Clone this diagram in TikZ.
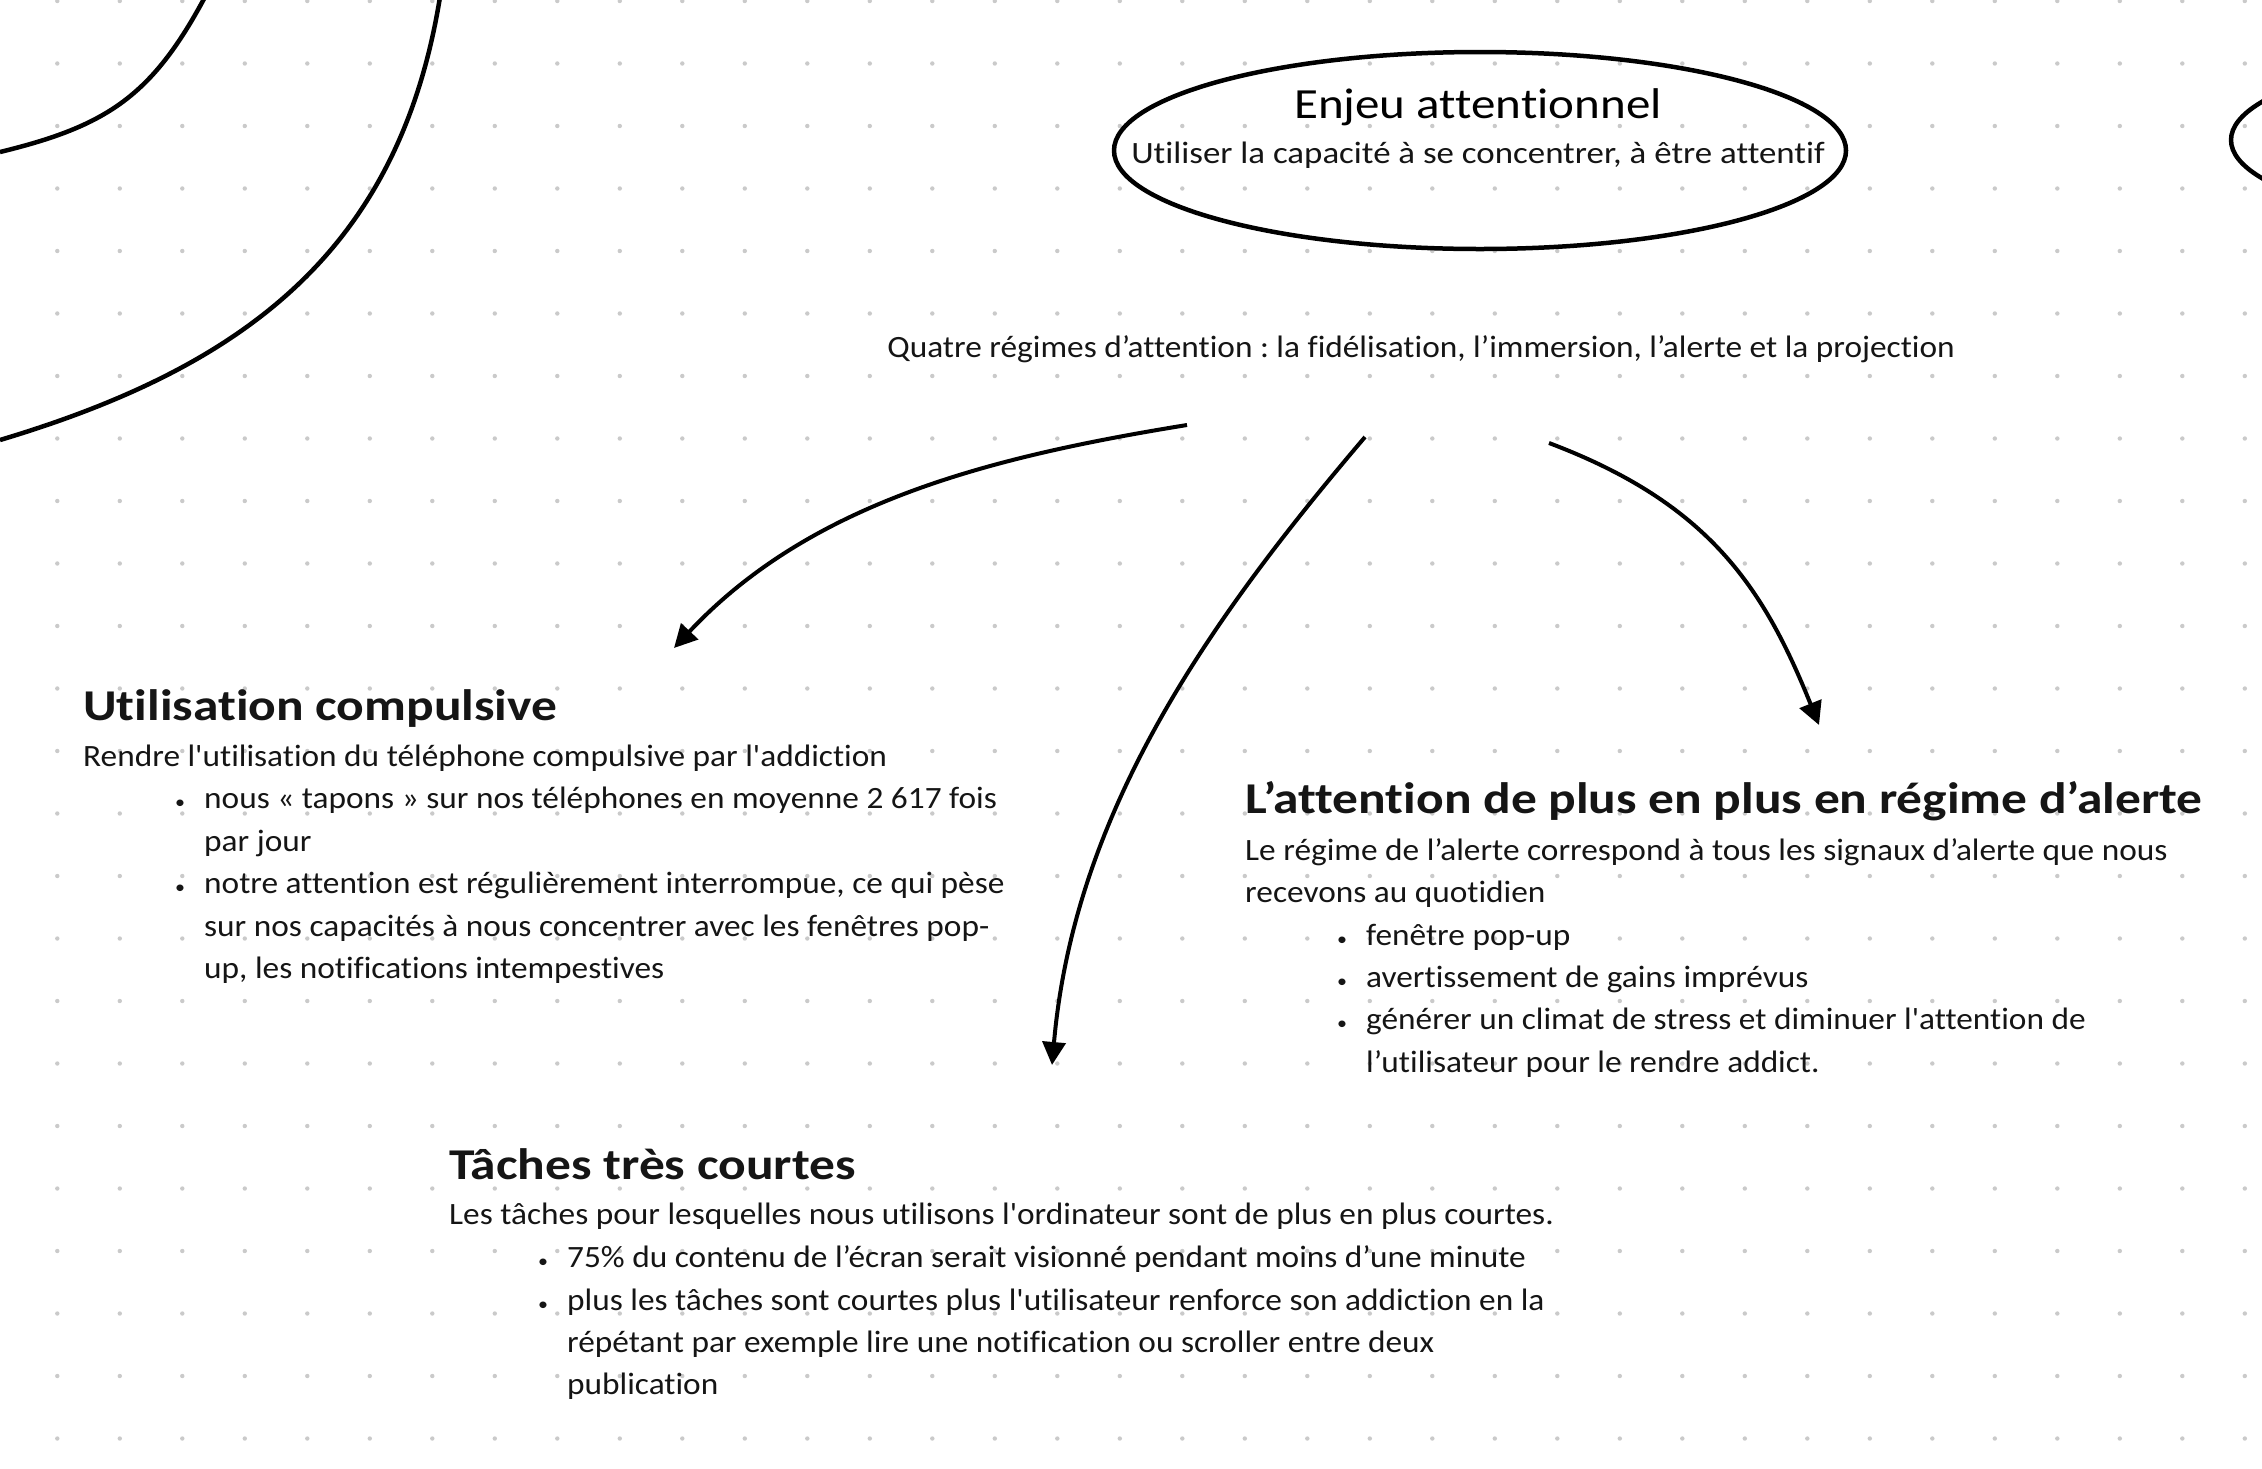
\documentclass[tikz,border=0pt]{standalone}
\usepackage{fontspec}
\newfontfamily\bodyf{Carlito}[FakeStretch=1.075,Ligatures=NoCommon]
\newfontfamily\subf{Carlito}[FakeStretch=1.125,Ligatures=NoCommon]
\newfontfamily\headf{Carlito}[FakeStretch=1.17,Ligatures=NoCommon]
\newfontfamily\enjf{Carlito}[FakeStretch=1.14,Ligatures=NoCommon]
\usetikzlibrary{arrows.meta,shapes.geometric}
\definecolor{ink}{HTML}{151515}
\definecolor{dotc}{HTML}{CACACA}
\frenchspacing
\begin{document}
\begin{tikzpicture}[x=1pt,y=-1pt,
  txt/.style={anchor=base west,inner sep=0pt,text=ink,font=\bodyf\fontsize{31}{37}\selectfont\frenchspacing},
  ttl/.style={anchor=base west,inner sep=0pt,text=ink,font=\headf\bfseries\fontsize{44}{52}\selectfont},
  ctxt/.style={anchor=base,inner sep=0pt,text=ink,font=\bodyf\fontsize{31}{37}\selectfont\frenchspacing},
  stxt/.style={anchor=base,inner sep=0pt,text=ink,font=\subf\fontsize{31}{37}\selectfont\frenchspacing},
  etitle/.style={anchor=base,inner sep=0pt,text=black,font=\enjf\fontsize{43}{50}\selectfont},
  arr/.style={line width=4pt,-{Triangle[length=23pt,width=23pt]}},
  shapeline/.style={line width=4.5pt}
]
\newcommand{\bl}{\llap{\makebox[0pt]{\scalebox{0.6}{•}}\hspace{24pt}}}
\useasboundingbox (0,0) rectangle (2262,1468);
\fill[white] (0,0) rectangle (2262,1468);
\clip (0,0) rectangle (2262,1468);
% dot grid
\foreach \i in {0,...,35} {
  \foreach \j in {0,...,23} {
    \fill[dotc] ({57.3+62.5*\i},{1+62.5*\j}) circle[radius=2.2pt];
  }
}
% partial shapes at the edges
\draw[shapeline] (0,152) .. controls (107,126) and (152,96) .. (205,-3);
\draw[shapeline] (0,440) .. controls (244,367) and (399,251) .. (440,-3);
\draw[shapeline] (2599,140) ellipse[x radius=368pt, y radius=95pt];
% central ellipse
\node[draw,shapeline,ellipse,minimum width=732pt,minimum height=197pt,inner sep=0pt] (enj) at (1480,150.5) {};
\node[etitle] (enjt) at (1478,118) {Enjeu attentionnel};
\node[stxt] (enjs) at (1478,163) {Utiliser la capacité à se concentrer, à être attentif};
% subtitle line
\node[ctxt] (quatre) at (1421,357) {Quatre régimes d’attention : la fidélisation, l’immersion, l’alerte et la projection};
% block 1
\node[ttl] (t1) at (83,720) {Utilisation compulsive};
\node[txt] (d1) at (83,766) {Rendre l'utilisation du téléphone compulsive par l'addiction};
\node[txt] (b1a) at (204,808) {\bl nous « tapons » sur nos téléphones en moyenne 2 617 fois};
\node[txt] (b1a2) at (204,851) {par jour};
\node[txt] (b1b) at (204,893) {\bl notre attention est régulièrement interrompue, ce qui pèse};
\node[txt] (b1b2) at (204,936) {sur nos capacités à nous concentrer avec les fenêtres pop-};
\node[txt] (b1b3) at (204,978) {up, les notifications intempestives};
% block 2
\node[ttl] (t2) at (1245,813) {L’attention de plus en plus en régime d’alerte};
\node[txt] (d2) at (1245,860) {Le régime de l’alerte correspond à tous les signaux d’alerte que nous};
\node[txt] (d2b) at (1245,902) {recevons au quotidien};
\node[txt] (b2a) at (1366,945) {\bl fenêtre pop-up};
\node[txt] (b2b) at (1366,987) {\bl avertissement de gains imprévus};
\node[txt] (b2c) at (1366,1029) {\bl générer un climat de stress et diminuer l'attention de};
\node[txt] (b2c2) at (1366,1072) {l’utilisateur pour le rendre addict.};
% block 3
\node[ttl] (t3) at (449,1179) {Tâches très courtes};
\node[txt] (d3) at (449,1224) {Les tâches pour lesquelles nous utilisons l'ordinateur sont de plus en plus courtes.};
\node[txt] (b3a) at (567,1267) {\bl 75\% du contenu de l’écran serait visionné pendant moins d’une minute};
\node[txt] (b3b) at (567,1310) {\bl plus les tâches sont courtes plus l'utilisateur renforce son addiction en la};
\node[txt] (b3b2) at (567,1352) {répétant par exemple lire une notification ou scroller entre deux};
\node[txt] (b3b3) at (567,1394) {publication};
% arrows
\coordinate (s1) at (1187,425);
\coordinate (e1) at (674,648);
\coordinate (s2) at (1365,437);
\coordinate (e2) at (1052,1065);
\coordinate (s3) at (1549,443);
\coordinate (e3) at (1819,725);
\draw[arr] (s1) .. controls (990,457) and (811,502) .. (e1);
\draw[arr] (s2) .. controls (1203,627) and (1074,816) .. (e2);
\draw[arr] (s3) .. controls (1708,503) and (1763,586) .. (e3);
\end{tikzpicture}
\end{document}
